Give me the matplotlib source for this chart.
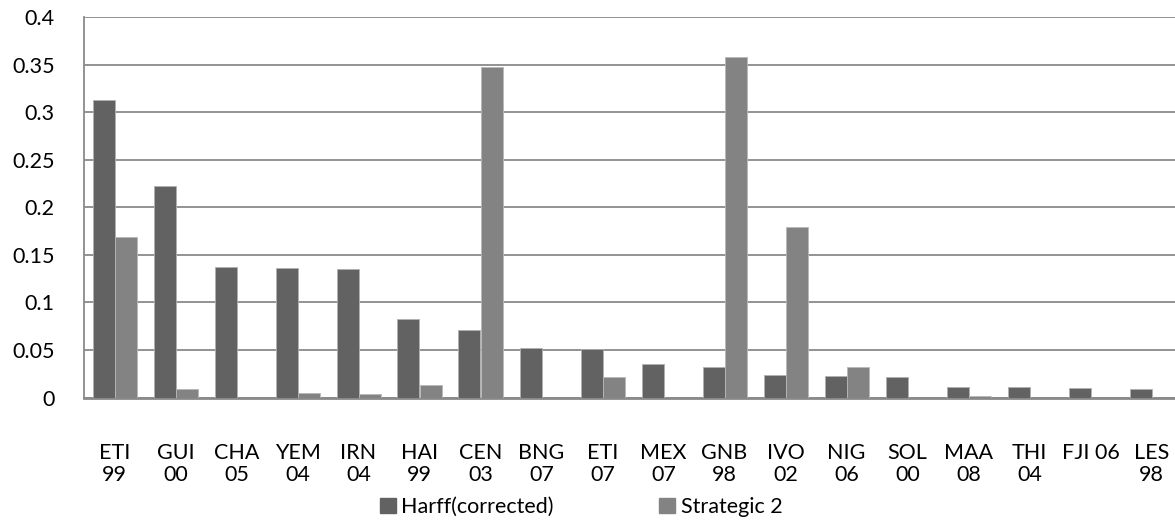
import matplotlib
matplotlib.use("Agg")
import matplotlib.pyplot as plt
import numpy as np
from matplotlib.patches import Patch

categories = ["ETI\n99", "GUI\n00", "CHA\n05", "YEM\n04", "IRN\n04", "HAI\n99",
              "CEN\n03", "BNG\n07", "ETI\n07", "MEX\n07", "GNB\n98", "IVO\n02",
              "NIG\n06", "SOL\n00", "MAA\n08", "THI\n04", "FJI 06", "LES\n98"]
harff = [0.313, 0.222, 0.137, 0.1365, 0.135, 0.0825, 0.071, 0.0517, 0.051,
         0.0352, 0.0324, 0.0233, 0.0223, 0.0219, 0.011, 0.0107, 0.010, 0.0086]
strategic = [0.169, 0.0089, 0.0, 0.0047, 0.0037, 0.0135, 0.347, 0.0, 0.0212,
             0.0, 0.3584, 0.1796, 0.0317, 0.0, 0.0019, 0.0, 0.0, 0.0]
series_names = ["Harff(corrected)", "Strategic 2"]
yticks = [0, 0.05, 0.1, 0.15, 0.2, 0.25, 0.3, 0.35, 0.4]
ytick_labels = ["0", "0.05", "0.1", "0.15", "0.2", "0.25", "0.3", "0.35", "0.4"]

c_harff = "#626262"
c_strat = "#838383"
grid_c = "#8a8a8a"

plt.rcParams["font.family"] = ["Lato", "DejaVu Sans"]

W, H = 1175, 524
fig = plt.figure(figsize=(W / 100, H / 100), dpi=100)
# plot area spans 84..1182 px horizontally (runs past the right edge), 17..397.5 px vertically
left, right, top, bottom = 84, 1182, 17, 397.5
ax = fig.add_axes([left / W, 1 - bottom / H, (right - left) / W, (bottom - top) / H])

x = np.arange(len(categories))
bw = 22 / 61
ax.bar(x - bw / 2, harff, bw, color=c_harff, edgecolor="#b0b0b0", linewidth=0.6, zorder=3)
ax.bar(x + bw / 2, strategic, bw, color=c_strat, edgecolor="#b8b8b8", linewidth=0.6, zorder=3)

ax.set_xlim(-0.5, len(categories) - 0.5)
ax.set_ylim(0, 0.4)
ax.set_yticks(yticks)
ax.set_yticklabels(ytick_labels, fontsize=15.5)
ax.set_xticks(x)
ax.set_xticklabels(categories, fontsize=15.5, linespacing=1.12)
ax.tick_params(axis="y", length=0, pad=21)
ax.tick_params(axis="x", length=0, pad=33)

ax.yaxis.grid(True, color=grid_c, linewidth=1.3, zorder=0)
ax.set_axisbelow(True)
for s in ["top", "right"]:
    ax.spines[s].set_visible(False)
ax.spines["left"].set_color(grid_c)
ax.spines["left"].set_linewidth(1.3)
ax.spines["bottom"].set_color(grid_c)
ax.spines["bottom"].set_linewidth(2)

handles = [Patch(color=c_harff, label=series_names[0]),
           Patch(color=c_strat, label=series_names[1])]
fig.legend(handles=handles, loc="center", bbox_to_anchor=(581 / W, 1 - 507 / H),
           ncol=2, frameon=False, fontsize=15.5, handlelength=0.75, handleheight=0.75,
           handletextpad=0.25, columnspacing=4.9, borderaxespad=0, borderpad=0)

fig.savefig("out.png", dpi=100)
